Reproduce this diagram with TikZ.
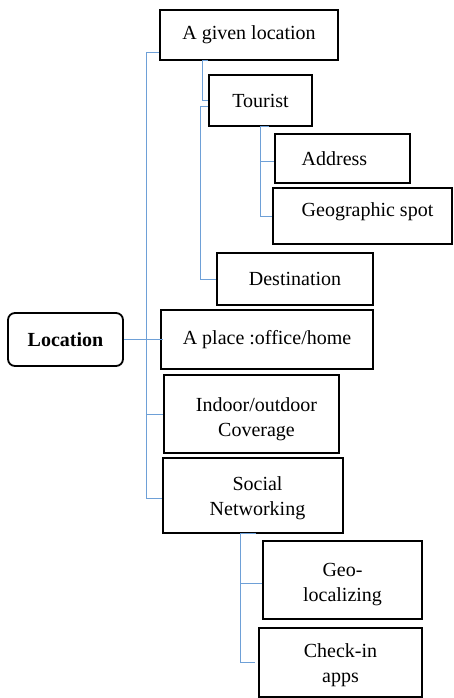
\documentclass[tikz,border=0pt]{standalone}
\usepackage{fontspec}
\setmainfont{Liberation Serif}
\usetikzlibrary{calc}
\definecolor{linkblue}{RGB}{110,160,215}
\begin{document}
\begin{tikzpicture}[x=1pt,y=-1pt,
  box/.style={draw=black,line width=1.8pt,rectangle,inner sep=0pt,
    font=\fontsize{20}{25}\selectfont,align=center},
  rbox/.style={box,rounded corners=7pt,font=\fontsize{20}{25}\selectfont\bfseries},
  link/.style={draw=linkblue,line width=1pt}]
\useasboundingbox (0,0) rectangle (453,698);

% boxes
\node[box,minimum width=178pt,minimum height=50pt] (given) at (249,35) {A given location};
\node[box,minimum width=103pt,minimum height=51pt] (tourist) at (260.5,100.5) {Tourist};
\node[box,minimum width=135pt,minimum height=49pt] (addr) at (342.5,158.5) {\hspace*{-16pt}Address};
\node[box,minimum width=179pt,minimum height=56pt,text height=14pt,text depth=14pt] (geo) at (362.5,216) {\hspace*{10pt}Geographic spot};
\node[box,minimum width=156pt,minimum height=52pt] (dest) at (295,279) {Destination};
\node[box,minimum width=212pt,minimum height=59pt] (place) at (267,339.5) {A place :office/home};
\node[rbox,minimum width=115pt,minimum height=53pt] (loc) at (65.5,339.5) {Location};
\node[box,minimum width=175pt,minimum height=78pt] (indoor) at (251.5,414)
  {\rule{0pt}{24pt}\hspace*{10pt}Indoor/outdoor\\\hspace*{10pt}Coverage};
\node[box,minimum width=180pt,minimum height=75pt] (social) at (253,495.5)
  {\rule{0pt}{19pt}\hspace*{9pt}Social\\\hspace*{9pt}Networking};
\node[box,minimum width=159pt,minimum height=78pt] (geoloc) at (342.5,580)
  {\rule{0pt}{22pt}Geo-\\localizing};
\node[box,minimum width=163pt,minimum height=69pt] (check) at (340.5,662.5)
  {\rule{0pt}{20pt}Check-in\\apps};

% elbow connectors
\draw[link] ([yshift=8pt]given.south west) -- ++(-13,0) coordinate (mainc)
  |- ([yshift=-2.5pt]social.west);
\draw[link] (loc.east) -- ([xshift=3pt]place.west);
\draw[link] (mainc |- indoor.west) -- (indoor.west);
\draw[link] (tourist.west |- given.south) -- ++(-6,0) |- (tourist.west);
\draw[link] ([yshift=-6.5pt]tourist.west) -- ++(-8,0) |- (dest.west);
\draw[link] ([xshift=8pt]tourist.south) -- (tourist.south) |- (geo.west);
\draw[link] ([yshift=-2.5pt]addr.west -| tourist.south) -- ([yshift=-2.5pt]addr.west);
\draw[link] ([xshift=3pt]social.south) -- ++(-16,0) coordinate (socc)
  |- ([xshift=-3pt]check.west);
\draw[link] ([yshift=-3pt]geoloc.west -| socc) -- ([yshift=-3pt]geoloc.west);
\end{tikzpicture}
\end{document}
